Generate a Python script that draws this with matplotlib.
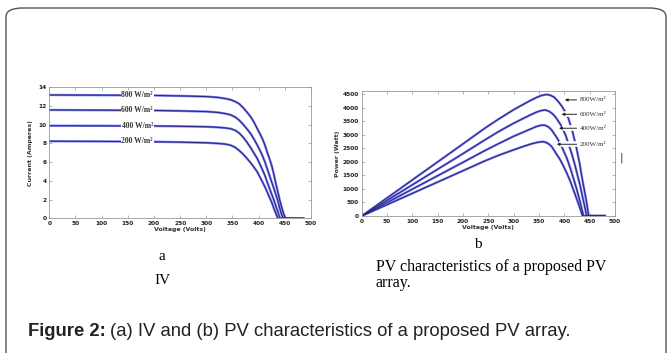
import numpy as np
import matplotlib.pyplot as plt
from matplotlib.patches import FancyBboxPatch

# I-V curves
iv_v800 = [0, 100, 200, 250, 300, 320, 335, 346, 355, 363, 371, 378, 385, 391, 397, 402, 407, 412, 416,
           421, 425, 429, 432, 435, 438, 441, 444.5, 448, 451, 485]
iv_i800 = [13.15, 13.13, 13.1, 13.05, 12.98, 12.9, 12.78, 12.65, 12.45, 12.2, 11.75, 11.3, 10.8, 10.25, 9.6,
           9.05, 8.5, 7.8, 7.1, 6.3, 5.6, 4.7, 3.9, 3.2, 2.5, 1.8, 1.07, 0.45, 0, 0]
iv_v600 = [0, 100, 200, 250, 300, 320, 335, 346, 355, 363, 371, 378, 385, 391, 397, 402, 407, 412, 416,
           421, 425, 429, 433, 436, 439, 442, 445, 447, 485]
iv_i600 = [11.55, 11.53, 11.5, 11.45, 11.38, 11.3, 11.18, 11.04, 10.8, 10.45, 9.97, 9.5, 9.0, 8.45, 7.84,
           7.3, 6.7, 6.0, 5.34, 4.5, 3.85, 3.2, 2.5, 2.0, 1.35, 0.71, 0.25, 0, 0]
iv_v400 = [0, 100, 200, 250, 300, 320, 335, 346, 355, 363, 371, 378, 385, 391, 397, 402, 407, 412, 416,
           421, 425, 429, 433, 436, 438.5, 441, 485]
iv_i400 = [9.87, 9.86, 9.84, 9.81, 9.76, 9.71, 9.64, 9.56, 9.38, 9.08, 8.6, 8.08, 7.5, 6.95, 6.41,
           5.8, 5.2, 4.55, 3.91, 3.15, 2.55, 1.96, 1.3, 0.8, 0.36, 0, 0]
iv_v200 = [0, 100, 200, 250, 300, 320, 335, 346, 355, 363, 371, 378, 385, 391, 397, 402, 407, 412, 416,
           421, 425, 429, 433, 436.6, 485]
iv_i200 = [8.22, 8.2, 8.16, 8.12, 8.05, 7.99, 7.92, 7.8, 7.57, 7.22, 6.8, 6.36, 5.9, 5.45, 4.98,
           4.45, 3.9, 3.35, 2.85, 2.2, 1.7, 1.07, 0.5, 0, 0]

# P-V curves
pv_v800 = [0, 100, 200, 243, 270, 300, 330, 345, 355, 365, 372, 380, 388, 395, 402, 408, 416, 424,
           430, 436, 440, 444, 448, 480]
pv_p800 = [0, 1330, 2660, 3236, 3570, 3920, 4230, 4370, 4445, 4480, 4455, 4380, 4220, 4050, 3830, 3600,
           3120, 2500, 1950, 1300, 900, 500, 0, 0]
pv_v600 = [0, 100, 200, 243, 270, 300, 330, 345, 355, 362, 370, 376, 382, 388, 395, 402, 408, 415, 421,
           426, 431, 436, 441, 444, 480]
pv_p600 = [0, 1150, 2300, 2804, 3110, 3420, 3700, 3830, 3890, 3910, 3860, 3780, 3665, 3500, 3300, 3000,
           2680, 2270, 1880, 1500, 1140, 700, 280, 0, 0]
pv_v400 = [0, 100, 200, 243, 270, 300, 320, 335, 345, 355, 362, 369, 375, 383, 392, 398, 405, 412, 418,
           425, 431, 435, 438, 480]
pv_p400 = [0, 990, 1980, 2410, 2665, 2940, 3100, 3220, 3300, 3350, 3345, 3280, 3170, 2950, 2680, 2420,
           2130, 1750, 1390, 950, 530, 220, 0, 0]
pv_v200 = [0, 100, 200, 243, 270, 300, 320, 335, 348, 358, 365, 370, 375, 383, 392, 398, 405, 412, 418,
           425, 431, 436, 480]
pv_p200 = [0, 835, 1670, 2030, 2235, 2440, 2570, 2660, 2720, 2742, 2705, 2645, 2560, 2330, 2065, 1850,
           1575, 1270, 960, 600, 280, 0, 0]

iv_labels = ["800 W/m²", "600 W/m²", "400 W/m²", "200 W/m²"]
iv_label_y = [13.1, 11.55, 9.85, 8.2]
pv_labels = ["800W/m²", "600W/m²", "400W/m²", "200W/m²"]
pv_arrow_v = [401, 394.6, 389.5, 385]
pv_arrow_p = [4280, 3750, 3236, 2645]

fig = plt.figure(figsize=(6.67, 3.53), dpi=100)
fig.patch.set_facecolor("white")

# rounded frame around the figure
frame = FancyBboxPatch((6 / 667, -0.1), 660 / 667, 1.1 - 8 / 353, boxstyle="round,pad=0,rounding_size=0.025",
                       transform=fig.transFigure, fc="none", ec="#555555", lw=1.0)
fig.patches.append(frame)

def curve(ax, v, y):
    ax.plot(v, y, color="#7a7aee", lw=1.7, zorder=2, solid_joinstyle="round")
    ax.plot(v, y, color="#24247a", lw=0.7, zorder=2.1, solid_joinstyle="round")

def style(ax):
    for s in ax.spines.values():
        s.set_color("#999999")
        s.set_linewidth(0.6)
    ax.tick_params(direction="in", length=2, width=0.5, color="#999999", top=True, right=True,
                   labelsize=4.2, pad=2, labelcolor="#222222")
    for lab in ax.get_xticklabels() + ax.get_yticklabels():
        lab.set_fontweight("bold")

ax1 = fig.add_axes([49.3 / 667, (353 - 218.3) / 353, 261.7 / 667, 131.3 / 353])
for v, i in [(iv_v800, iv_i800), (iv_v600, iv_i600), (iv_v400, iv_i400), (iv_v200, iv_i200)]:
    curve(ax1, v, i)
ax1.set_xlim(0, 500)
ax1.set_ylim(0, 14)
ax1.set_xticks(np.arange(0, 501, 50))
ax1.set_yticks(np.arange(0, 15, 2))
style(ax1)
ax1.set_xlabel("Voltage (Volts)", fontsize=4.5, fontweight="bold", labelpad=1, color="#333333")
ax1.set_ylabel("Current (Amperes)", fontsize=4.5, fontweight="bold", labelpad=4, color="#333333")
for lab, y in zip(iv_labels, iv_label_y):
    ax1.text(168, y, lab, ha="center", va="center", fontsize=5.5, family="Liberation Serif",
             fontweight="bold", color="#333333", zorder=5,
             bbox=dict(fc="white", ec="none", pad=0.6))

ax2 = fig.add_axes([361.7 / 667, (353 - 216) / 353, 253.3 / 667, 125.3 / 353])
for v, p in [(pv_v800, pv_p800), (pv_v600, pv_p600), (pv_v400, pv_p400), (pv_v200, pv_p200)]:
    curve(ax2, v, p)
ax2.set_xlim(0, 500)
ax2.set_ylim(0, 4620)
ax2.set_xticks(np.arange(0, 501, 50))
ax2.set_yticks(np.arange(0, 4501, 500))
style(ax2)
ax2.set_xlabel("Voltage (Volts)", fontsize=4.5, fontweight="bold", labelpad=1, color="#333333")
ax2.set_ylabel("Power (Watt)", fontsize=4.5, fontweight="bold", labelpad=2, color="#333333")
for lab, hv, hp in zip(pv_labels, pv_arrow_v, pv_arrow_p):
    ax2.plot([hv + 5, 431], [hp, hp], color="white", lw=4, zorder=3, solid_capstyle="butt")
    ax2.annotate(lab, xy=(hv, hp), xytext=(431, hp), ha="left", va="center", fontsize=5,
                 family="Liberation Serif", color="#333333", zorder=5,
                 bbox=dict(fc="white", ec="none", pad=0.5),
                 arrowprops=dict(arrowstyle="-|>", color="#222222", lw=0.7, mutation_scale=4,
                                 shrinkA=2, shrinkB=0))

# sub captions
fig.text(162 / 667, 1 - 257 / 353, "a", ha="center", va="center", fontsize=11, family="Liberation Serif")
fig.text(162 / 667, 1 - 280 / 353, "IV", ha="center", va="center", fontsize=11, family="Liberation Serif")
fig.text(478 / 667, 1 - 245 / 353, "b", ha="center", va="center", fontsize=11, family="Liberation Serif")
fig.text(376 / 667, 1 - 267 / 353, "PV characteristics of a proposed PV", ha="left", va="center",
         fontsize=11.5, family="Liberation Serif")
fig.text(376 / 667, 1 - 283 / 353, "array.", ha="left", va="center", fontsize=11.5, family="Liberation Serif")
fig.text(621 / 667, 1 - 158 / 353, "|", ha="center", va="center", fontsize=8, color="#333333")

# figure caption
r = fig.canvas.get_renderer()
t = fig.text(28 / 667, 1 - 331 / 353, "Figure 2:", ha="left", va="center", fontsize=13.3,
             family="Liberation Sans", fontweight="bold", color="#222222")
bb = t.get_window_extent(renderer=r)
fig.text((bb.x1 + 4) / 667, 1 - 331 / 353, "(a) IV and (b) PV characteristics of a proposed PV array.",
         ha="left", va="center", fontsize=13.3, family="Liberation Sans", color="#222222")

fig.savefig("out.png", dpi=100)
